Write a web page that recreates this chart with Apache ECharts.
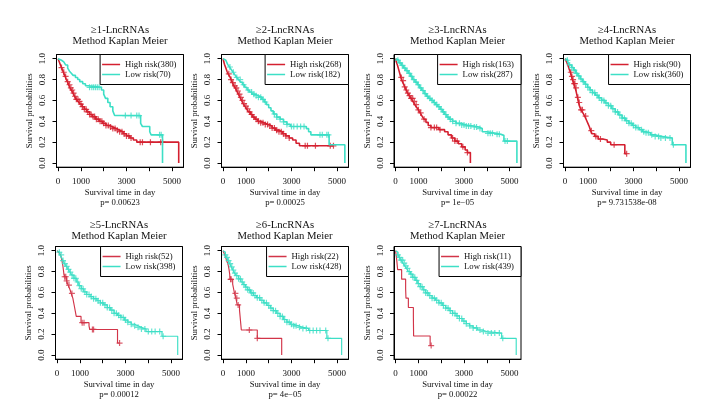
<!DOCTYPE html>
<html><head><meta charset="utf-8">
<script src="https://cdn.jsdelivr.net/npm/echarts@6/dist/echarts.min.js"></script>
<style>html,body{margin:0;padding:0;background:#fff}#c{width:709px;height:409px}</style>
</head><body><div id="c"></div><script>
// ---------------- data ----------------
const panelTitles = ['≥1-LncRNAs','≥2-LncRNAs','≥3-LncRNAs','≥4-LncRNAs','≥5-LncRNAs','≥6-LncRNAs','≥7-LncRNAs'];
const subTitle = 'Method Kaplan Meier';
const highLabels = ['High risk(380)','High risk(268)','High risk(163)','High risk(90)','High risk(52)','High risk(22)','High risk(11)'];
const lowLabels = ['Low risk(70)','Low risk(182)','Low risk(287)','Low risk(360)','Low risk(398)','Low risk(428)','Low risk(439)'];
const pValues = ['p= 0.00623','p= 0.00025','p= 1e\u221205','p= 9.731538e-08','p= 0.00012','p= 4e\u221205','p= 0.00022'];
const xName = 'Survival time in day';
const yName = 'Survival probabilities';
const xTicks = [0,1000,2000,3000,4000,5000];
const xTickLabels = [0,1000,3000,5000];
const yTicks = [0,0.2,0.4,0.6,0.8,1.0];

// KM step curves: [day, survival]
const high1 = [[0,1],[20,0.985],[50,0.97],[80,0.955],[110,0.935],[150,0.915],[190,0.895],[230,0.87],[270,0.85],[310,0.83],[360,0.80],[410,0.78],[460,0.75],[520,0.72],[580,0.70],[650,0.67],[720,0.64],[800,0.61],[880,0.59],[960,0.565],[1050,0.54],[1150,0.515],[1260,0.49],[1380,0.465],[1500,0.445],[1650,0.42],[1800,0.40],[1950,0.38],[2100,0.36],[2250,0.345],[2400,0.33],[2550,0.315],[2700,0.30],[2850,0.28],[3000,0.26],[3150,0.24],[3300,0.22],[3450,0.20],[5290,0.20],[5290,0]];
const low1 = [[0,1],[60,0.985],[150,0.97],[250,0.955],[330,0.94],[420,0.91],[500,0.88],[580,0.86],[660,0.84],[760,0.82],[860,0.80],[950,0.78],[1080,0.76],[1200,0.74],[1330,0.725],[1900,0.70],[2000,0.66],[2080,0.62],[2180,0.58],[2280,0.54],[2400,0.50],[2480,0.455],[3620,0.38],[3700,0.35],[4020,0.30],[4080,0.27],[4580,0.27],[4580,0]];
const highCens1 = [150,250,330,420,500,560,620,680,740,800,870,940,1000,1070,1150,1230,1300,1380,1450,1530,1600,1680,1760,1840,1920,2000,2100,2200,2300,2400,2500,2600,2700,2800,2900,3000,3100,3200,3600,3700,4050,4500,4580];
const lowCens1 = [1380,1480,1560,1640,1720,1800,2950,3200,3450,3550,4450,4520];

const high2 = [[0,1],[30,0.97],[70,0.94],[120,0.91],[170,0.88],[220,0.855],[290,0.83],[350,0.80],[410,0.77],[470,0.74],[530,0.72],[600,0.69],[670,0.66],[740,0.63],[810,0.60],[880,0.57],[950,0.545],[1030,0.52],[1110,0.49],[1200,0.465],[1300,0.44],[1400,0.42],[1520,0.40],[1650,0.385],[1800,0.37],[1970,0.355],[2150,0.335],[2300,0.315],[2450,0.30],[2600,0.28],[2750,0.26],[2900,0.24],[3050,0.22],[3200,0.19],[3350,0.165],[4850,0.165]];
const low2 = [[0,1],[50,0.985],[120,0.97],[200,0.945],[280,0.92],[360,0.895],[440,0.87],[520,0.845],[600,0.82],[680,0.80],[760,0.775],[850,0.75],[950,0.725],[1050,0.70],[1150,0.68],[1260,0.66],[1400,0.645],[1550,0.63],[1700,0.61],[1800,0.585],[1900,0.56],[2000,0.53],[2100,0.50],[2200,0.47],[2350,0.44],[2500,0.42],[2650,0.395],[2800,0.37],[2950,0.35],[3650,0.33],[3750,0.30],[3850,0.27],[4650,0.175],[5340,0.175],[5340,0]];
const highCens2 = [250,350,430,520,580,650,720,780,850,920,1000,1080,1160,1250,1350,1450,1550,1650,1750,1850,1950,2050,2150,2250,2350,2450,2550,2650,2750,2900,3600,3700,4050,4700,4840];
const lowCens2 = [300,450,600,750,900,1100,1250,1350,1450,1550,1650,1750,1850,2250,2350,2500,2650,2800,3000,3100,3250,3400,3550,4250,4350,4550,4620];

const high3 = [[0,1],[30,0.97],[80,0.94],[130,0.90],[180,0.86],[230,0.82],[280,0.79],[340,0.76],[400,0.73],[460,0.70],[530,0.67],[600,0.645],[680,0.62],[760,0.59],[840,0.56],[920,0.535],[1000,0.51],[1080,0.48],[1160,0.45],[1240,0.42],[1330,0.39],[1430,0.36],[1550,0.34],[1900,0.32],[2150,0.30],[2300,0.27],[2450,0.24],[2600,0.21],[2750,0.185],[2900,0.155],[3050,0.125],[3150,0.10],[3280,0.10],[3280,0]];
const low3 = [[0,1],[60,0.985],[150,0.96],[250,0.935],[350,0.91],[450,0.885],[550,0.86],[650,0.83],[750,0.80],[850,0.775],[950,0.75],[1050,0.72],[1150,0.695],[1250,0.665],[1350,0.64],[1450,0.62],[1550,0.60],[1650,0.58],[1750,0.56],[1850,0.54],[1950,0.515],[2050,0.49],[2150,0.465],[2250,0.44],[2350,0.42],[2500,0.40],[2650,0.38],[2850,0.365],[3100,0.355],[3400,0.345],[3650,0.33],[3800,0.30],[4000,0.285],[4400,0.275],[4600,0.265],[4750,0.21],[5320,0.21],[5320,0]];
const highCens3 = [250,330,400,470,540,610,680,750,820,900,1000,1100,1250,1550,1700,1800,1950,2500,2600,2700,2950,3150];
const lowCens3 = [100,200,300,400,500,600,700,800,900,1000,1100,1200,1300,1400,1500,1600,1700,1800,1900,2000,2100,2200,2300,2400,2500,2650,2800,2900,3000,3100,3200,3300,3450,3550,3700,4050,4150,4250,4450,4550,4800,4900];

const high4 = [[0,1],[60,0.97],[120,0.94],[180,0.90],[230,0.87],[280,0.83],[320,0.80],[380,0.76],[440,0.72],[490,0.68],[540,0.63],[590,0.58],[640,0.54],[700,0.51],[780,0.48],[860,0.45],[940,0.41],[1000,0.38],[1060,0.35],[1120,0.31],[1180,0.28],[1300,0.255],[1450,0.23],[1650,0.22],[1850,0.20],[2000,0.175],[2620,0.175],[2620,0.09],[2700,0.09]];
const low4 = [[0,1],[50,0.985],[120,0.965],[200,0.94],[290,0.915],[380,0.89],[470,0.86],[560,0.835],[660,0.805],[760,0.78],[870,0.755],[980,0.725],[1090,0.70],[1200,0.675],[1320,0.65],[1450,0.625],[1600,0.60],[1750,0.575],[1900,0.55],[2050,0.52],[2200,0.49],[2350,0.46],[2500,0.43],[2650,0.405],[2800,0.38],[2950,0.36],[3100,0.34],[3250,0.32],[3400,0.30],[3550,0.29],[3750,0.27],[3950,0.255],[4200,0.24],[4700,0.175],[5300,0.175],[5300,0]];
const highCens4 = [250,300,350,400,430,480,560,620,700,760,900,1150,1350,1550,2150,2700];
const lowCens4 = [100,200,300,400,500,600,700,800,900,1000,1100,1200,1300,1400,1500,1600,1700,1800,1900,2000,2100,2200,2300,2400,2500,2600,2700,2800,2900,3000,3100,3200,3350,3450,3550,3650,3800,3950,4100,4200,4400,4600,4750];

const high5 = [[0,1],[80,0.98],[150,0.96],[200,0.92],[250,0.86],[280,0.81],[300,0.77],[330,0.75],[420,0.71],[480,0.67],[560,0.63],[620,0.59],[690,0.545],[760,0.465],[840,0.37],[1050,0.31],[1400,0.28],[1430,0.245],[2650,0.245],[2650,0.115],[2750,0.115]];
const low5 = [[0,1],[50,0.985],[120,0.96],[190,0.935],[260,0.905],[330,0.875],[410,0.85],[490,0.82],[570,0.795],[650,0.765],[740,0.735],[840,0.70],[950,0.665],[1060,0.635],[1170,0.605],[1300,0.58],[1450,0.56],[1600,0.54],[1750,0.52],[1900,0.50],[2050,0.48],[2200,0.455],[2350,0.43],[2500,0.40],[2650,0.38],[2800,0.36],[2950,0.335],[3100,0.315],[3250,0.295],[3400,0.28],[3550,0.265],[3700,0.25],[3900,0.225],[4600,0.18],[5290,0.18],[5290,0]];
const highCens5 = [330,380,420,520,650,1100,1180,1550,1600,2740];
const lowCens5 = [100,180,260,340,420,500,580,660,740,820,900,980,1060,1140,1220,1300,1400,1500,1600,1700,1800,1900,2000,2100,2200,2300,2400,2500,2600,2700,2800,2900,3000,3100,3250,3400,3550,3700,3850,4000,4150,4300,4500,4650];

const high6 = [[0,1],[80,0.955],[150,0.91],[220,0.865],[260,0.82],[290,0.775],[300,0.725],[420,0.68],[460,0.635],[500,0.59],[560,0.545],[620,0.48],[720,0.43],[800,0.24],[1500,0.16],[2570,0.16],[2570,0]];
const low6 = [[0,1],[40,0.985],[100,0.96],[160,0.935],[220,0.905],[290,0.875],[360,0.845],[430,0.815],[510,0.785],[590,0.76],[680,0.73],[780,0.70],[880,0.675],[980,0.65],[1080,0.625],[1200,0.595],[1330,0.57],[1470,0.55],[1620,0.525],[1780,0.50],[1930,0.475],[2070,0.45],[2200,0.425],[2350,0.40],[2500,0.37],[2650,0.34],[2800,0.315],[2950,0.295],[3100,0.28],[3300,0.265],[3500,0.255],[3750,0.235],[4550,0.16],[5200,0.16],[5200,0]];
const highCens6 = [330,350,540,600,660,1150,1500];
const lowCens6 = [100,170,240,310,380,450,520,600,680,760,840,920,1000,1080,1160,1240,1320,1400,1500,1600,1700,1800,1900,2000,2100,2200,2300,2400,2500,2600,2700,2800,2900,3000,3100,3200,3350,3500,3650,3800,3950,4100,4250,4500,4600];

const high7 = [[0,1],[50,0.909],[90,0.818],[265,0.727],[440,0.636],[455,0.545],[560,0.455],[780,0.364],[785,0.273],[790,0.182],[1515,0.091],[1580,0.091]];
const low7 = [[0,1],[40,0.985],[100,0.96],[170,0.935],[240,0.91],[320,0.88],[400,0.855],[480,0.83],[560,0.80],[650,0.775],[750,0.745],[860,0.715],[970,0.685],[1080,0.655],[1200,0.625],[1320,0.595],[1460,0.57],[1600,0.545],[1750,0.525],[1900,0.50],[2050,0.475],[2200,0.45],[2350,0.425],[2500,0.40],[2650,0.375],[2800,0.35],[2950,0.325],[3100,0.30],[3250,0.28],[3400,0.26],[3600,0.24],[3800,0.225],[4000,0.21],[4650,0.16],[5290,0.16],[5290,0]];
const highCens7 = [1560];
const lowCens7 = [100,170,240,310,380,450,520,600,680,760,840,920,1000,1080,1160,1240,1320,1400,1500,1600,1700,1800,1900,2000,2100,2200,2300,2400,2500,2600,2700,2800,2900,3000,3100,3250,3400,3550,3700,3850,4050,4200,4350,4550,4700];

// ---------------- layout ----------------
const highCurves = [high1,high2,high3,high4,high5,high6,high7];
const lowCurves = [low1,low2,low3,low4,low5,low6,low7];
const highCens = [highCens1,highCens2,highCens3,highCens4,highCens5,highCens6,highCens7];
const lowCens = [lowCens1,lowCens2,lowCens3,lowCens4,lowCens5,lowCens6,lowCens7];

const W = 709;
const boxLeft = [56.5, 221.5, 394, 563.5, 55.5, 221.5, 394];
const boxTop = [54.5, 54.5, 54.5, 54.5, 246.5, 246.5, 246.5];
const boxW = 127, boxH = 112.7;
const titleTop = [25, 25, 25, 25, 219.5, 219.5, 219.5];
const FONT = 'Liberation Serif';
const RED = '#d42030', RED2 = '#d23448', GREEN = '#3ddfc6';
const plusPath = 'path://M2,0H3V2H5V3H3V5H2V3H0V2H2Z';

function atTime(curve, t) {
  let y = curve[0][1];
  for (const p of curve) { if (p[0] <= t) y = p[1]; else break; }
  return y;
}

const grid = [], xAxis = [], yAxis = [], series = [], legend = [], title = [];
for (let i = 0; i < 7; i++) {
  const top = i < 4;
  const lw = top ? 1.6 : 1.15;
  const red = top ? RED : RED2;
  grid.push({left: boxLeft[i], top: boxTop[i], width: boxW, height: boxH, show: true,
    borderColor: '#000', borderWidth: 1, backgroundColor: 'transparent', containLabel: false});
  xAxis.push({type: 'value', gridIndex: i, min: -70, max: 5500,
    name: xName + '\n' + pValues[i], nameLocation: 'middle', nameGap: 20.5,
    nameTextStyle: {fontFamily: FONT, fontSize: 8.7, color: '#111', lineHeight: 10},
    axisLine: {show: true, onZero: false, lineStyle: {color: '#000', width: 1}},
    axisTick: {show: true, inside: false, length: 4, customValues: xTicks, lineStyle: {color: '#000', width: 1}},
    axisLabel: {show: true, customValues: xTickLabels, margin: 10, fontFamily: FONT, fontSize: 9, color: '#111',
      formatter: v => String(v), hideOverlap: false},
    splitLine: {show: false}});
  yAxis.push({type: 'value', gridIndex: i, min: -0.04, max: 1.04,
    name: yName, nameLocation: 'middle', nameGap: 22,
    nameTextStyle: {fontFamily: FONT, fontSize: 8.7, color: '#111'},
    axisLine: {show: true, onZero: false, lineStyle: {color: '#000', width: 1}},
    axisTick: {show: true, inside: false, length: 4, customValues: yTicks, lineStyle: {color: '#000', width: 1}},
    axisLabel: {show: true, customValues: yTicks, rotate: 90, margin: 9, fontFamily: FONT, fontSize: 9, color: '#111',
      formatter: v => v.toFixed(1), hideOverlap: false},
    splitLine: {show: false}});
  series.push({name: highLabels[i], type: 'line', xAxisIndex: i, yAxisIndex: i, step: 'end',
    data: highCurves[i], showSymbol: false, symbol: 'none', color: red,
    lineStyle: {color: red, width: lw}, animation: false, silent: true, z: 2});
  series.push({name: lowLabels[i], type: 'line', xAxisIndex: i, yAxisIndex: i, step: 'end',
    data: lowCurves[i], showSymbol: false, symbol: 'none', color: GREEN,
    lineStyle: {color: GREEN, width: lw}, animation: false, silent: true, z: 3});
  series.push({name: 'hc' + i, type: 'scatter', xAxisIndex: i, yAxisIndex: i,
    data: highCens[i].map(t => [t, atTime(highCurves[i], t)]), symbol: plusPath, symbolSize: 6,
    itemStyle: {color: red}, animation: false, silent: true, z: 2});
  series.push({name: 'lc' + i, type: 'scatter', xAxisIndex: i, yAxisIndex: i,
    data: lowCens[i].map(t => [t, atTime(lowCurves[i], t)]), symbol: plusPath, symbolSize: 6,
    itemStyle: {color: GREEN}, animation: false, silent: true, z: 3});
  legend.push({data: [highLabels[i], lowLabels[i]], orient: 'vertical',
    right: W - (boxLeft[i] + boxW), top: boxTop[i], padding: [5, 7, 5, 2], itemGap: 0,
    itemWidth: 18, itemHeight: 1.5, icon: 'rect', selectedMode: false,
    backgroundColor: '#fff', borderColor: '#000', borderWidth: 1, borderRadius: 0,
    textStyle: {fontFamily: FONT, fontSize: 8.7, color: '#111', lineHeight: 10}});
  title.push({text: panelTitles[i] + '\n' + subTitle, left: boxLeft[i] + boxW / 2, top: titleTop[i],
    textAlign: 'center', padding: 0,
    textStyle: {fontFamily: FONT, fontSize: 10.7, fontWeight: 'normal', color: '#111', lineHeight: 11}});
}

const chart = echarts.init(document.getElementById('c'), null, {renderer: 'canvas'});
chart.setOption({backgroundColor: '#fff', animation: false, grid, xAxis, yAxis, series, legend, title});
</script></body></html>
